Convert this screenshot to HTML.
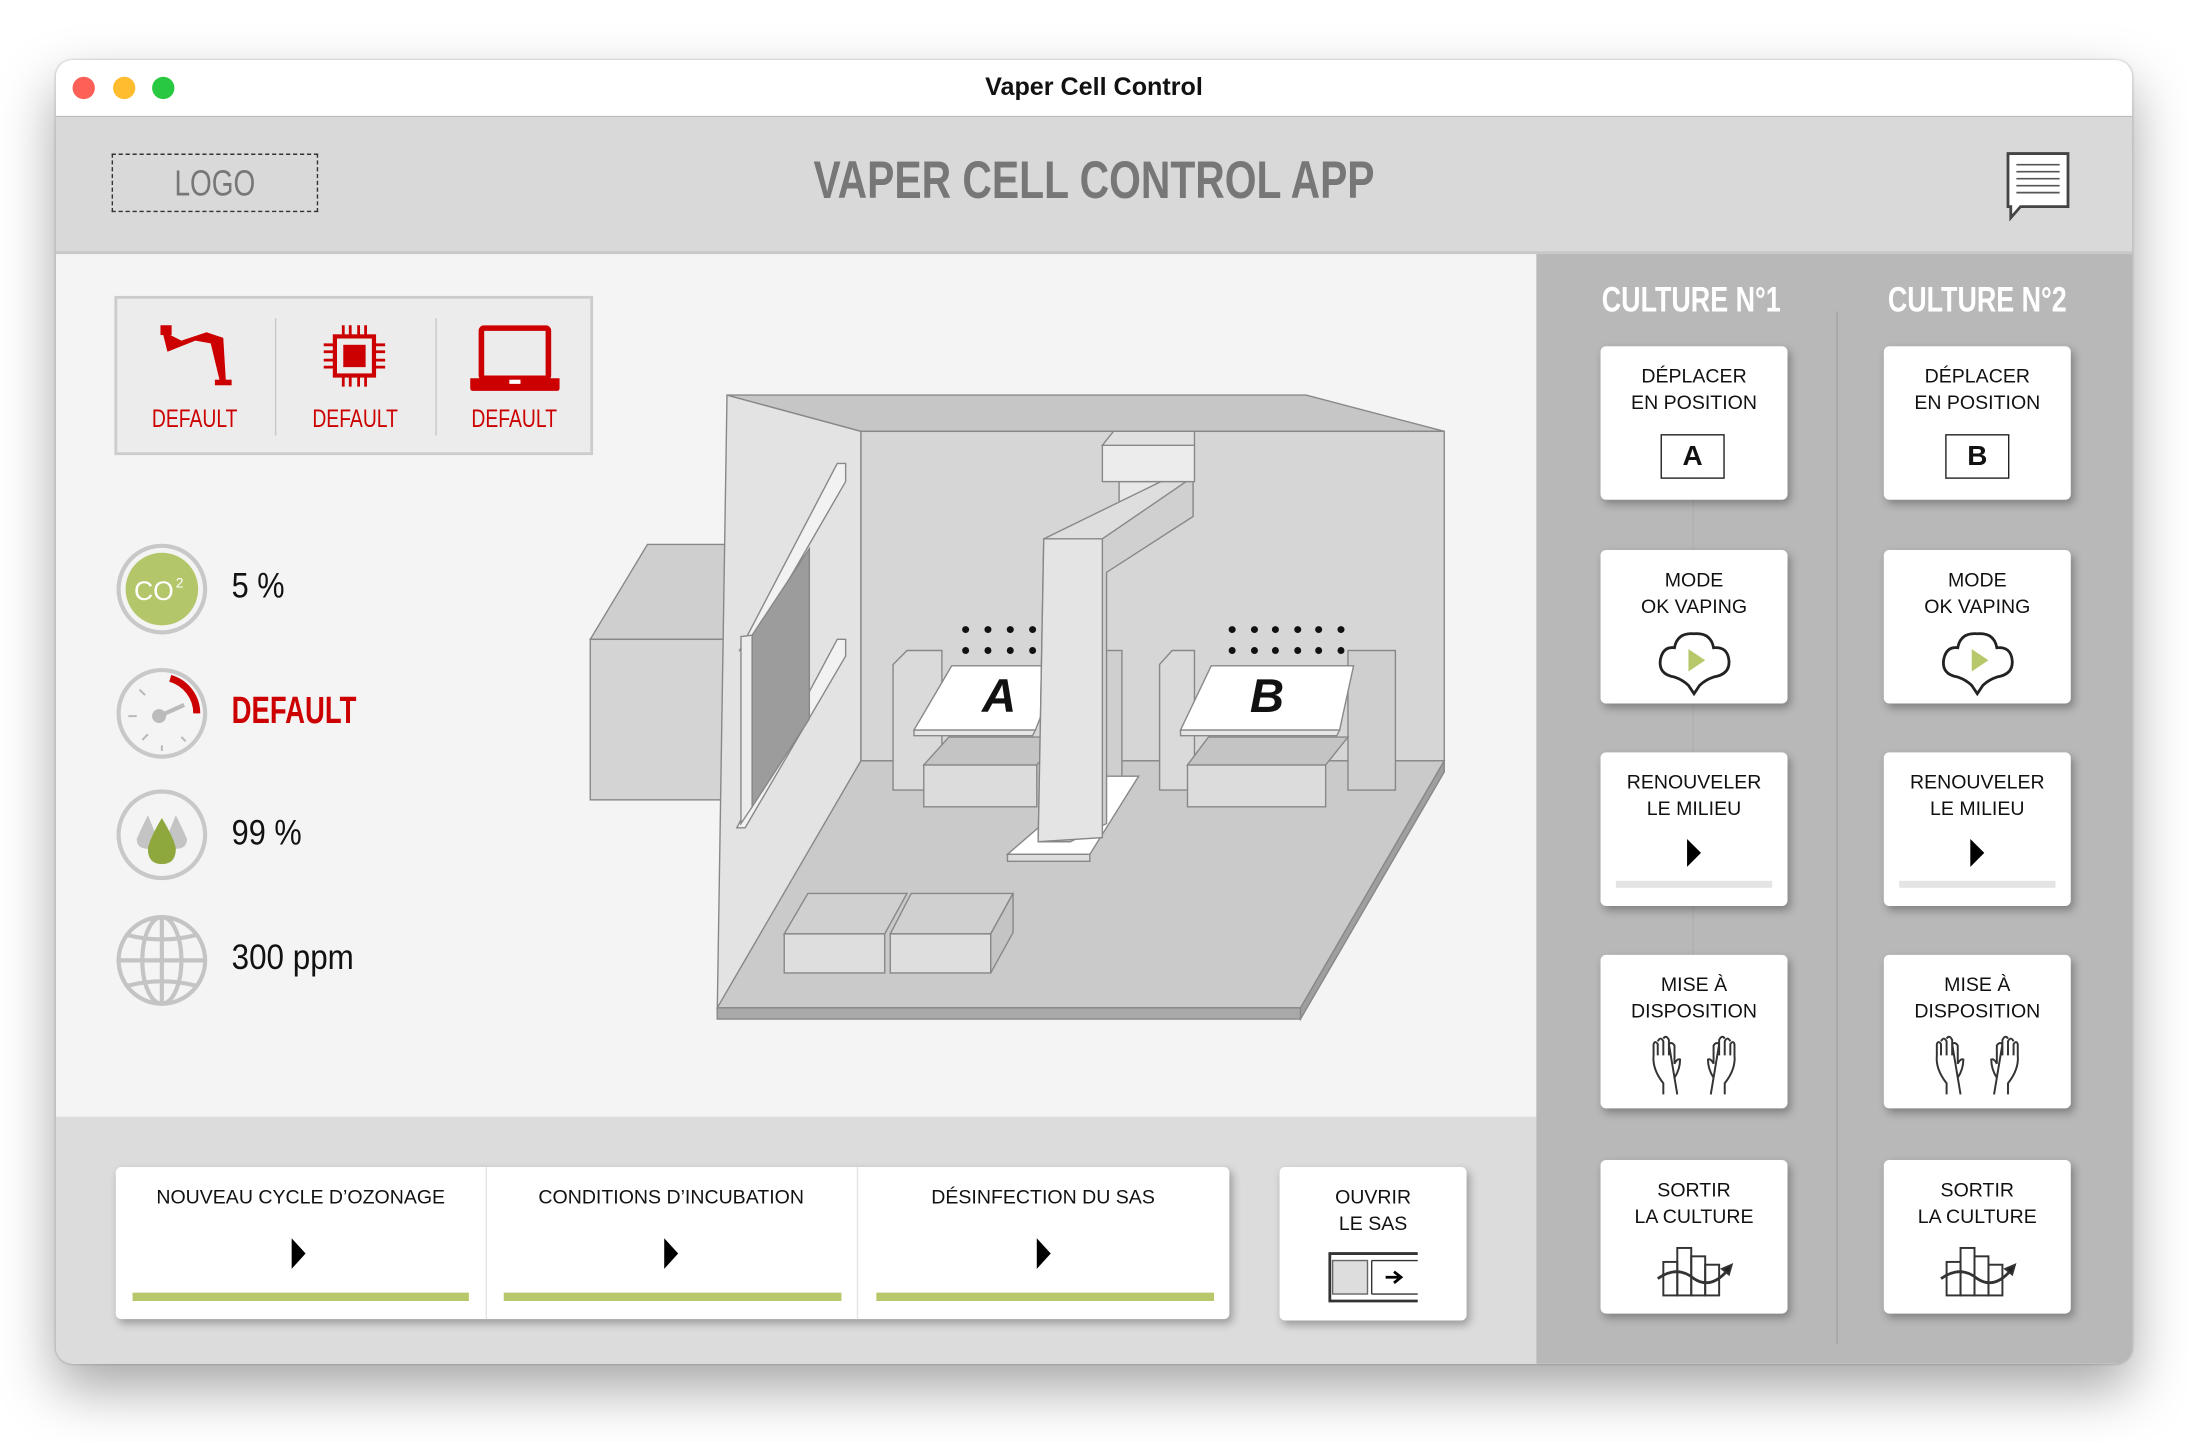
<!DOCTYPE html>
<html><head><meta charset="utf-8">
<style>
html,body{margin:0;padding:0;width:2188px;height:1442px;overflow:hidden;background:#fff;}
#s{position:absolute;left:0;top:0;width:1568px;height:1033px;transform:scale(1.39541,1.39593);transform-origin:0 0;font-family:"Liberation Sans",sans-serif;}
.abs{position:absolute;}
.win{left:40px;top:43px;width:1488px;height:934px;border-radius:12px;overflow:hidden;box-shadow:0 18px 40px rgba(0,0,0,0.35),0 0 2px rgba(0,0,0,0.3);background:#f4f4f4;}
.nar{font-family:"Liberation Sans Narrow","Liberation Sans",sans-serif;font-weight:bold;transform:scaleX(.77);transform-origin:50% 50%;}
.card{position:absolute;background:#fff;border-radius:4px;box-shadow:2px 3px 6px rgba(0,0,0,0.3);text-align:center;font-size:14px;line-height:19px;color:#111;}
.card .t{position:absolute;left:0;right:0;top:12px;}
</style></head><body>
<div id="s">
<div class="abs win">
  <div class="abs" style="left:0;top:0;width:1488px;height:40px;background:#fff;border-bottom:1px solid #bbb;"></div>
  <div class="abs" style="left:12px;top:12px;width:16px;height:16px;border-radius:50%;background:#fe5f57;"></div>
  <div class="abs" style="left:41px;top:12px;width:16px;height:16px;border-radius:50%;background:#febc2e;"></div>
  <div class="abs" style="left:69px;top:12px;width:16px;height:16px;border-radius:50%;background:#28c840;"></div>
  <div class="abs" style="left:0;width:1488px;top:9px;text-align:center;font-size:18px;font-weight:bold;color:#111;">Vaper Cell Control</div>
  <div class="abs" style="left:0;top:41px;width:1488px;height:96px;background:#d9d9d9;border-bottom:2px solid #c8c8c8;"></div>
  <div class="abs" style="left:40px;top:67px;width:148px;height:42px;border:1px dashed #333;box-sizing:border-box;"></div>
  <div class="abs nar" style="left:40px;top:67px;width:148px;height:42px;text-align:center;line-height:42px;font-size:26px;color:#777;font-weight:normal;">LOGO</div>
  <div class="abs nar" style="left:0;width:1488px;top:66px;text-align:center;font-size:38px;color:#777;">VAPER CELL CONTROL APP</div>
  <svg class="abs" style="left:1396px;top:64px" width="50" height="52" viewBox="0 0 50 52">
    <path d="M3 3 H46 V41 H12 L5 49 V41 H3 Z" fill="#fff" stroke="#444" stroke-width="2"/>
    <g stroke="#555" stroke-width="1.2"><line x1="9" y1="11" x2="40" y2="11"/><line x1="9" y1="16" x2="40" y2="16"/><line x1="9" y1="21" x2="40" y2="21"/><line x1="9" y1="26" x2="40" y2="26"/><line x1="9" y1="31" x2="40" y2="31"/></g>
  </svg>
  <div class="abs" style="left:0;top:757px;width:1061px;height:177px;background:#dcdcdc;"></div>
  <div class="abs" style="left:1061px;top:139px;width:427px;height:795px;background:#b8b8b8;"></div>
  <div class="abs" style="left:1276px;top:180px;width:1px;height:740px;background:#a4a4a4;"></div>
  <div class="abs nar" style="left:1072px;width:200px;top:158px;text-align:center;font-size:25px;color:#fff;">CULTURE N°1</div>
  <div class="abs nar" style="left:1277px;width:200px;top:158px;text-align:center;font-size:25px;color:#fff;">CULTURE N°2</div>
</div>

<div class="abs" style="left:82px;top:212px;width:343px;height:114px;background:#ececec;border:2px solid #ccc;box-sizing:border-box;"></div>
<div class="abs" style="left:197px;top:228px;width:1px;height:84px;background:#c8c8c8;"></div>
<div class="abs" style="left:312px;top:228px;width:1px;height:84px;background:#c8c8c8;"></div>
<svg class="abs" style="left:110px;top:230px" width="60" height="50" viewBox="0 0 60 50">
  <rect x="5" y="3" width="8" height="7" fill="#c00"/><path d="M7 10 L10 22 L30 14 L41 16 L48 45 L52 45 L50 12 L38 8 L20 14 L12 10Z" fill="#c00"/><rect x="44" y="42" width="12" height="4" fill="#c00"/>
</svg>
<svg class="abs" style="left:231px;top:232px" width="46" height="46" viewBox="0 0 46 46">
  <rect x="9" y="9" width="28" height="28" fill="none" stroke="#c00" stroke-width="3"/><rect x="15" y="15" width="16" height="16" fill="#c00"/>
  <g stroke="#c00" stroke-width="2"><line x1="15" y1="1" x2="15" y2="9"/><line x1="20" y1="1" x2="20" y2="9"/><line x1="26" y1="1" x2="26" y2="9"/><line x1="31" y1="1" x2="31" y2="9"/><line x1="15" y1="37" x2="15" y2="45"/><line x1="20" y1="37" x2="20" y2="45"/><line x1="26" y1="37" x2="26" y2="45"/><line x1="31" y1="37" x2="31" y2="45"/><line x1="1" y1="15" x2="9" y2="15"/><line x1="1" y1="20" x2="9" y2="20"/><line x1="1" y1="26" x2="9" y2="26"/><line x1="1" y1="31" x2="9" y2="31"/><line x1="37" y1="15" x2="45" y2="15"/><line x1="37" y1="20" x2="45" y2="20"/><line x1="37" y1="26" x2="45" y2="26"/><line x1="37" y1="31" x2="45" y2="31"/></g>
</svg>
<svg class="abs" style="left:336px;top:233px" width="66" height="48" viewBox="0 0 66 48">
  <rect x="9" y="2" width="48" height="36" rx="2" fill="none" stroke="#c00" stroke-width="4"/><path d="M1 38 H65 V45 Q65 47 63 47 H3 Q1 47 1 45Z" fill="#c00"/><rect x="29" y="39" width="8" height="3" fill="#fff"/>
</svg>
<div class="abs nar" style="left:82px;width:115px;top:290px;text-align:center;font-size:18px;color:#c00;font-weight:normal;">DEFAULT</div>
<div class="abs nar" style="left:197px;width:115px;top:290px;text-align:center;font-size:18px;color:#c00;font-weight:normal;">DEFAULT</div>
<div class="abs nar" style="left:312px;width:113px;top:290px;text-align:center;font-size:18px;color:#c00;font-weight:normal;">DEFAULT</div>

<svg class="abs" style="left:80px;top:386px" width="72" height="340" viewBox="0 0 72 340">
  <circle cx="36" cy="36" r="31" fill="none" stroke="#c8c8c8" stroke-width="3"/><circle cx="36" cy="36" r="26" fill="#b3c76a"/>
  <text x="16" y="44" font-family="Liberation Sans" font-size="19" fill="#fff">CO</text><text x="46" y="35" font-family="Liberation Sans" font-size="10" fill="#fff">2</text>
  <circle cx="36" cy="125" r="31" fill="none" stroke="#c8c8c8" stroke-width="3"/>
  <path d="M42 100 A26 26 0 0 1 61 125" fill="none" stroke="#c00" stroke-width="5"/>
  <circle cx="34" cy="127" r="5" fill="#bbb"/><line x1="34" y1="127" x2="52" y2="119" stroke="#bbb" stroke-width="3"/>
  <g stroke="#bbb" stroke-width="1.5"><line x1="12" y1="127" x2="18" y2="127"/><line x1="20" y1="108" x2="24" y2="112"/><line x1="22" y1="144" x2="26" y2="140"/><line x1="36" y1="148" x2="36" y2="152"/><line x1="50" y1="142" x2="53" y2="145"/></g>
  <circle cx="36" cy="212" r="31" fill="none" stroke="#c8c8c8" stroke-width="3"/>
  <path d="M26 198 Q20 210 18 215 Q18 222 26 222 Q33 222 33 215 Z" fill="#c4c4c4"/><path d="M46 198 Q52 210 54 215 Q54 222 46 222 Q39 222 39 215 Z" fill="#c4c4c4"/>
  <path d="M36 200 Q27 215 26 222 Q26 233 36 233 Q46 233 46 222 Q45 215 36 200Z" fill="#8fa83e"/>
  <g fill="none" stroke="#c4c4c4" stroke-width="3"><circle cx="36" cy="302" r="31"/><ellipse cx="36" cy="302" rx="14" ry="31"/><line x1="36" y1="271" x2="36" y2="333"/><line x1="5" y1="302" x2="67" y2="302"/><path d="M12 284 Q36 290 60 284"/><path d="M12 320 Q36 314 60 320"/></g>
</svg>
<div class="abs" style="left:166px;top:406px;font-size:25px;color:#111;transform:scaleX(.88);transform-origin:0 0;">5 %</div>
<div class="abs" style="left:166px;top:494px;font-size:27px;font-weight:bold;color:#c00;transform:scaleX(.73);transform-origin:0 0;">DEFAULT</div>
<div class="abs" style="left:166px;top:583px;font-size:25px;color:#111;transform:scaleX(.88);transform-origin:0 0;">99 %</div>
<div class="abs" style="left:166px;top:672px;font-size:25px;color:#111;transform:scaleX(.9);transform-origin:0 0;">300 ppm</div>

<svg class="abs" style="left:0;top:0" width="1100" height="800" viewBox="0 0 1100 800">
 <g stroke="#888" stroke-width="1">
  <polygon points="423,458 464,390 521,390 521,458" fill="#cfcfcf"/>
  <rect x="423" y="458" width="98" height="115" fill="#d4d4d4"/>
  <polygon points="521,283 617,309 617,545 514,725" fill="#e3e3e3"/>
  <polygon points="521,283 936,283 1035,309 617,309" fill="#c6c6c6"/>
  <rect x="617" y="309" width="418" height="236" fill="#d6d6d6"/>
  <polygon points="617,545 1035,545 932,722 514,722" fill="#cacaca"/>
  <polygon points="514,722 932,722 932,730 514,730" fill="#a9a9a9"/>
  <polygon points="932,722 1035,545 1035,553 932,730" fill="#9f9f9f"/>
  <polygon points="600,332 606,332 606,345 536,466 530,466" fill="#f2f2f2"/>
  <polygon points="600,458 606,458 606,470 534,593 528,593" fill="#f2f2f2"/>
  <polygon points="539,455 580,393 580,515 539,578" fill="#9c9c9c"/>
  <polygon points="531,456 539,455 539,578 531,590" fill="#ececec"/>
  <polygon points="640,476 650,466 675,466 675,566 640,566" fill="#dadada"/>
  <rect x="779" y="466" width="25" height="100" fill="#cfcfcf"/>
  <polygon points="662,548 743,548 743,578 662,578" fill="#dcdcdc"/>
  <polygon points="662,548 680,528 760,528 743,548" fill="#c4c4c4"/>
  <polygon points="655,523 742,523 760,477 682,477" fill="#fff"/>
  <polygon points="655,523 742,523 740,527 655,527" fill="#e6e6e6"/>
  <polygon points="831,476 840,466 856,466 856,566 831,566" fill="#dadada"/>
  <rect x="966" y="466" width="34" height="100" fill="#cfcfcf"/>
  <polygon points="851,548 950,548 950,578 851,578" fill="#dcdcdc"/>
  <polygon points="851,548 866,528 966,528 950,548" fill="#c4c4c4"/>
  <polygon points="846,523 960,523 970,477 868,477" fill="#fff"/>
  <polygon points="846,523 960,523 958,527 846,527" fill="#e6e6e6"/>
  <polygon points="722,612 781,612 816,556 787,556" fill="#fff"/>
  <polygon points="722,612 781,612 781,617 722,617" fill="#ddd"/>
  <rect x="802" y="345" width="29" height="15" fill="#e8e8e8"/>
  <polygon points="751,386 832,345 855,345 855,370 793,410 793,590 767,603 744,603 748,386" fill="#d0d0d0"/>
  <polygon points="748,386 790,386 790,600 744,603" fill="#e4e4e4"/>
  <polygon points="748,386 832,345 850,345 790,386" fill="#dedede"/>
  <rect x="790" y="319" width="66" height="26" fill="#ececec"/>
  <polygon points="790,319 798,309 856,309 856,319" fill="#e0e0e0"/>
  <polygon points="562,669 579,640 650,640 634,669" fill="#d0d0d0"/>
  <rect x="562" y="669" width="72" height="28" fill="#dedede"/>
  <polygon points="638,669 653,640 726,640 710,669" fill="#d0d0d0"/>
  <rect x="638" y="669" width="72" height="28" fill="#dedede"/>
  <polygon points="710,669 726,640 726,668 710,697" fill="#c4c4c4"/>
 </g>
 <g fill="#111">
  <circle cx="692" cy="451" r="2.5"/><circle cx="708" cy="451" r="2.5"/><circle cx="724" cy="451" r="2.5"/><circle cx="740" cy="451" r="2.5"/>
  <circle cx="692" cy="466" r="2.5"/><circle cx="708" cy="466" r="2.5"/><circle cx="724" cy="466" r="2.5"/><circle cx="740" cy="466" r="2.5"/>
  <circle cx="883" cy="451" r="2.5"/><circle cx="899" cy="451" r="2.5"/><circle cx="914" cy="451" r="2.5"/><circle cx="930" cy="451" r="2.5"/><circle cx="945" cy="451" r="2.5"/><circle cx="961" cy="451" r="2.5"/>
  <circle cx="883" cy="466" r="2.5"/><circle cx="899" cy="466" r="2.5"/><circle cx="914" cy="466" r="2.5"/><circle cx="930" cy="466" r="2.5"/><circle cx="945" cy="466" r="2.5"/><circle cx="961" cy="466" r="2.5"/>
 </g>
 <text x="716" y="510" font-family="Liberation Sans" font-weight="bold" font-style="italic" font-size="34" text-anchor="middle" fill="#111">A</text>
 <text x="908" y="510" font-family="Liberation Sans" font-weight="bold" font-style="italic" font-size="34" text-anchor="middle" fill="#111">B</text>
</svg>

<div class="card" style="left:83px;top:836px;width:798px;height:109px;"></div>
<div class="abs" style="left:348px;top:836px;width:1px;height:109px;background:#e4e4e4;"></div>
<div class="abs" style="left:614px;top:836px;width:1px;height:109px;background:#e4e4e4;"></div>
<div class="abs" style="left:83px;width:265px;top:849px;text-align:center;font-size:14px;color:#111;">NOUVEAU CYCLE D’OZONAGE</div>
<div class="abs" style="left:348px;width:266px;top:849px;text-align:center;font-size:14px;color:#111;">CONDITIONS D’INCUBATION</div>
<div class="abs" style="left:614px;width:267px;top:849px;text-align:center;font-size:14px;color:#111;">DÉSINFECTION DU SAS</div>
<svg class="abs" style="left:0;top:880px" width="900" height="60">
  <polygon points="209,7 219,18 209,29" fill="#000"/><polygon points="476,7 486,18 476,29" fill="#000"/><polygon points="743,7 753,18 743,29" fill="#000"/>
  <rect x="95" y="46" width="241" height="6" fill="#b6c86a"/><rect x="361" y="46" width="242" height="6" fill="#b6c86a"/><rect x="628" y="46" width="242" height="6" fill="#b6c86a"/>
</svg>
<div class="card" style="left:917px;top:836px;width:134px;height:110px;"><div class="t">OUVRIR<br>LE SAS</div></div>
<svg class="abs" style="left:950px;top:895px" width="70" height="40" viewBox="0 0 70 40">
  <path d="M66 3 H3 V37 H66" fill="none" stroke="#333" stroke-width="2"/><rect x="5" y="8" width="25" height="24" fill="#ddd" stroke="#666"/><line x1="33" y1="8" x2="66" y2="8" stroke="#333"/><line x1="33" y1="32" x2="66" y2="32" stroke="#333"/><line x1="33" y1="8" x2="33" y2="32" stroke="#333"/>
  <path d="M43 20 H52 M49 16 L54 20 L49 24" fill="none" stroke="#000" stroke-width="2"/>
</svg>

<div class="abs" style="left:1213px;top:300px;width:1px;height:400px;background:#aaa;opacity:.6;"></div>
<div class="card" style="left:1147px;top:248px;width:134px;height:110px;"><div class="t">DÉPLACER<br>EN POSITION</div><div class="abs" style="left:43px;top:63px;width:46px;height:32px;border:1.5px solid #222;box-sizing:border-box;font-weight:bold;font-size:20px;line-height:30px;">A</div></div>
<div class="card" style="left:1350px;top:248px;width:134px;height:110px;"><div class="t">DÉPLACER<br>EN POSITION</div><div class="abs" style="left:44px;top:63px;width:46px;height:32px;border:1.5px solid #222;box-sizing:border-box;font-weight:bold;font-size:20px;line-height:30px;">B</div></div>
<div class="card" style="left:1147px;top:394px;width:134px;height:110px;"><div class="t">MODE<br>OK VAPING</div></div>
<div class="card" style="left:1350px;top:394px;width:134px;height:110px;"><div class="t">MODE<br>OK VAPING</div></div>
<div class="card" style="left:1147px;top:539px;width:134px;height:110px;"><div class="t">RENOUVELER<br>LE MILIEU</div><div class="abs" style="left:11px;top:92px;width:112px;height:5px;background:#e4e4e4;"></div></div>
<div class="card" style="left:1350px;top:539px;width:134px;height:110px;"><div class="t">RENOUVELER<br>LE MILIEU</div><div class="abs" style="left:11px;top:92px;width:112px;height:5px;background:#e4e4e4;"></div></div>
<div class="card" style="left:1147px;top:684px;width:134px;height:110px;"><div class="t">MISE À<br>DISPOSITION</div></div>
<div class="card" style="left:1350px;top:684px;width:134px;height:110px;"><div class="t">MISE À<br>DISPOSITION</div></div>
<div class="card" style="left:1147px;top:831px;width:134px;height:110px;"><div class="t">SORTIR<br>LA CULTURE</div></div>
<div class="card" style="left:1350px;top:831px;width:134px;height:110px;"><div class="t">SORTIR<br>LA CULTURE</div></div>

<svg class="abs" style="left:0;top:0" width="1568" height="1033" viewBox="0 0 1568 1033">
 <defs>
  <g id="cloud"><path d="M-14 12 Q-26 10 -24 -1 Q-22 -10 -14 -9 Q-12 -20 0 -19 Q12 -20 14 -9 Q24 -10 25 0 Q26 10 14 12 Q8 14 4 18 L0 24 L-4 18 Q-8 14 -14 12Z" fill="none" stroke="#222" stroke-width="2"/><polygon points="-4,-8 8,0 -4,8" fill="#b6c86a"/></g>
  <g id="hands" fill="none" stroke="#333" stroke-width="1.4"><path d="M-22 22 V14 Q-30 4 -29 -6 V-14 M-29 -6 V-14 Q-28 -17 -26 -14 V-6 M-26 -16 Q-24 -20 -22 -16 V-6 M-22 -18 Q-20 -21 -18 -17 V-6 M-18 -14 Q-16 -16 -14 -13 V0 Q-12 -4 -10 -3 Q-10 4 -14 10 L-12 22 Z"/><path d="M22 22 V14 Q30 4 29 -6 V-14 M29 -6 V-14 Q28 -17 26 -14 V-6 M26 -16 Q24 -20 22 -16 V-6 M22 -18 Q20 -21 18 -17 V-6 M18 -14 Q16 -16 14 -13 V0 Q12 -4 10 -3 Q10 4 14 10 L12 22 Z"/></g>
  <g id="chart" fill="none" stroke="#333" stroke-width="1.4"><rect x="-22" y="-6" width="10" height="24"/><rect x="-12" y="-16" width="10" height="34"/><rect x="-2" y="-10" width="10" height="28"/><rect x="8" y="-4" width="10" height="22"/><path d="M-26 6 Q-12 -4 0 6 Q12 14 24 0" stroke-width="2"/><polygon points="27,-4 20,-1 25,3" fill="#222"/></g>
 </defs>
 <use href="#cloud" x="1214" y="473"/><use href="#cloud" x="1417" y="473"/>
 <polygon points="1209,601 1219,611 1209,621" fill="#000"/><polygon points="1412,601 1422,611 1412,621" fill="#000"/>
 <use href="#hands" x="1214" y="762"/><use href="#hands" x="1417" y="762"/>
 <use href="#chart" x="1214" y="910"/><use href="#chart" x="1417" y="910"/>
</svg>
</div>
</body></html>
